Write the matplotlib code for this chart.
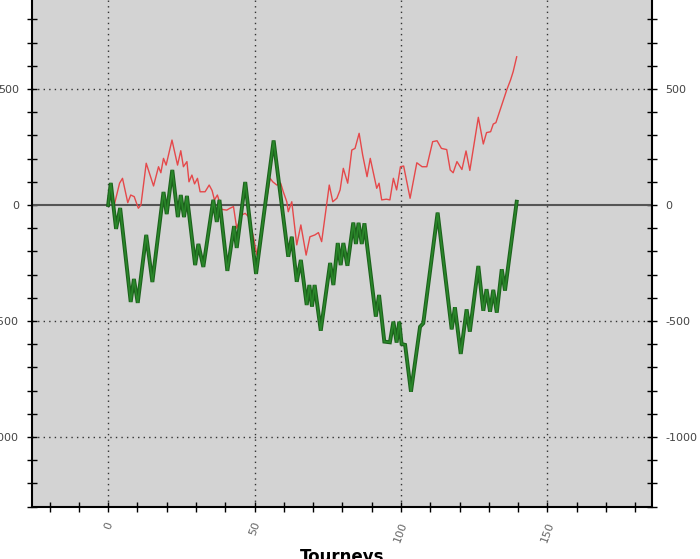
import matplotlib
matplotlib.use("Agg")
import matplotlib.pyplot as plt
from matplotlib.ticker import MultipleLocator

# ---- data ----
red_x = [0, 0.9, 2, 3.9, 4.9, 6.7, 7.7, 8.9, 10.3, 11.2, 13, 14.1, 15.5, 17.2, 18, 18.9,
         19.8, 21.8, 23.7, 24.8, 25.7, 26.9, 27.6, 28.6, 29.5, 30.5, 31.4, 33.1, 34.5,
         35.5, 36.3, 37.3, 38, 38.8, 40.5, 41.6, 42.8, 43.9, 45.6, 46.8, 47.9, 49.6,
         50.8, 52.5, 55.3, 56.2, 57.6, 58.9, 59.8, 61, 61.5, 62.7, 64.4, 65.8, 67.6,
         68.9, 70.6, 71.8, 72.9, 75.5, 76.7, 78.1, 79.2, 80.3, 81.8, 83.2, 84.3, 85.7,
         86.9, 88.4, 89.5, 91.7, 92.5, 93.4, 95, 96.2, 97.4, 98.5, 99.8, 100.9, 103.1,
         105.4, 107.2, 108.8, 110.8, 112.3, 113.8, 115.6, 116.8, 117.8, 119.1, 120.8,
         122.2, 123.5, 126.4, 128.1, 129.2, 130.6, 131.5, 132.4, 136.1, 137.4, 138.3,
         139.5]
red_y = [0, 43, -4, 94, 115, 10, 43, 36, -14, 0, 180, 137, 82, 165, 139, 201,
         172, 280, 172, 234, 165, 187, 100, 129, 91, 115, 57, 57, 86,
         62, 22, 43, 14, -19, -22, -14, -7, -100, -43, -36, -50, -137,
         -216, -94, 115, 100, 86, 94, 57, 14, -29, 14, -172, -86, -216,
         -137, -129, -119, -158, 86, 14, 29, 65, 158, 94, 237, 244, 309,
         216, 122, 201, 72, 94, 22, 25, 22, 115, 65, 165, 168, 29,
         182, 165, 165, 273, 277, 244, 239, 151, 139, 187, 153,
         233, 149, 378, 263, 312, 316, 349, 355, 496, 539, 575,
         639]

green_x = [0, 0.9, 2.7, 4.1, 7.7, 8.8, 10.1, 13, 15.1, 18.9, 20, 21.9, 23.8, 24.8, 25.9,
           26.9, 29.7, 30.8, 32.5, 35.9, 37.1, 38, 40.7, 43, 43.9, 46.8, 50.5, 56.5,
           61.5, 62.7, 64.4, 65.8, 67.8, 68.7, 69.6, 70.5, 72.6, 75.8, 76.9, 78.4,
           79.4, 80.3, 81.7, 83.7, 84.6, 85.5, 86.6, 87.5, 91.4, 92.5, 94.3, 96.2,
           97.4, 98.5, 99.4, 100.2, 101.4, 103.4, 106.5, 107.6, 112.5, 117.3, 118.4,
           120.4, 122.4, 123.5, 126.4, 128.1, 129.2, 130.4, 131.5, 132.7, 134.4,
           135.5, 139.5]
green_y = [0, 95, -103, -13, -418, -319, -422, -129, -332, 56, -39, 151, -52, 43, -52,
           39, -259, -168, -267, 22, -73, 22, -284, -91, -185, 99, -297, 278,
           -223, -137, -331, -237, -431, -345, -438, -345, -542, -250, -345, -164,
           -259, -164, -262, -76, -168, -77, -168, -79, -481, -388, -589, -592,
           -503, -593, -503, -599, -603, -805, -525, -510, -33, -536, -441,
           -642, -450, -546, -263, -456, -363, -460, -366, -464, -277,
           -369, 14]

x_ticks = [0, 50, 100, 150]
y_ticks = [-1000, -500, 0, 500]
x_label = "Tourneys"

# ---- figure ----
W, H = 700, 559
fig = plt.figure(figsize=(W / 100, H / 100), dpi=100)
fig.patch.set_facecolor("white")
ax_left, ax_right, ax_bottom, ax_top = 32, 652, 507, -20
ax = fig.add_axes([ax_left / W, (H - ax_bottom) / H,
                   (ax_right - ax_left) / W, (ax_bottom - ax_top) / H])
ax.set_facecolor("#d3d3d3")
ax.set_xlim(-26, 185.7)
ax.set_ylim(-1302, 970)

# grid
for xv in x_ticks:
    ax.axvline(xv, color="#333333", lw=1.0, ls=(0, (1, 3)), zorder=1)
for yv in y_ticks:
    if yv != 0:
        ax.axhline(yv, color="#333333", lw=1.0, ls=(0, (1, 3)), zorder=1)
ax.axhline(0, color="#555555", lw=1.5, zorder=2)

# lines
ax.plot(red_x, red_y, color="#e5484a", lw=1.0, zorder=3)
ax.plot(green_x, green_y, color="#1c621c", lw=2.8, zorder=4, solid_joinstyle="miter")
ax.plot(green_x, green_y, color="#2a862a", lw=1.2, zorder=5, solid_joinstyle="miter")

# ticks
ax.set_xticks(x_ticks)
ax.xaxis.set_minor_locator(MultipleLocator(10))
ax.set_yticks(y_ticks)
ax.yaxis.set_minor_locator(MultipleLocator(100))
ax.set_xticklabels([str(v) for v in x_ticks], rotation=70, color="#666666", fontsize=8)
ax.set_yticklabels([str(v) for v in y_ticks], color="#444444", fontsize=8)
ax.tick_params(axis="both", which="both", direction="inout", length=7, width=1,
               color="black", right=True, labelright=True)
ax.tick_params(axis="y", pad=6)
ax.tick_params(axis="x", pad=6)

for s in ["left", "right", "bottom"]:
    ax.spines[s].set_linewidth(1.5)
    ax.spines[s].set_color("black")
ax.spines["top"].set_visible(False)

fig.text((ax_left + ax_right) / 2 / W, (H - 548) / H, x_label, ha="center", va="top",
         fontsize=12, fontweight="bold", color="black")

fig.savefig("out.png", dpi=100)
